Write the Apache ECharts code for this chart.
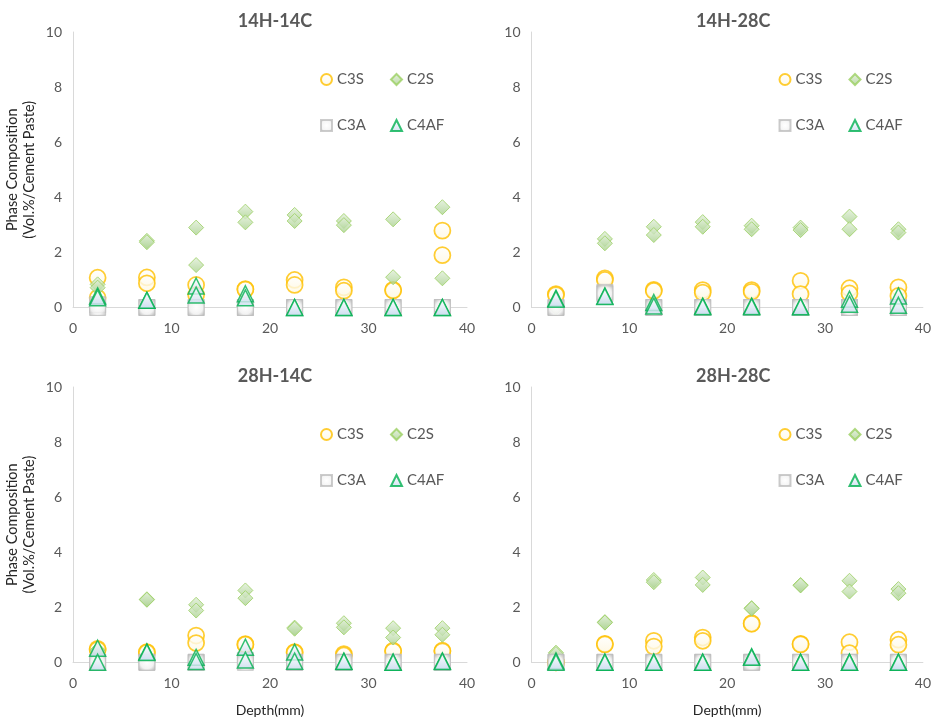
<!DOCTYPE html>
<html>
<head>
<meta charset="utf-8">
<script src="https://cdn.jsdelivr.net/npm/echarts@6/dist/echarts.min.js"></script>
<style>
  html, body { margin: 0; padding: 0; background: #ffffff; }
  #chart { width: 934px; height: 721px; }
</style>
</head>
<body>
<div id="chart"></div>
<script>
// Sampling depths (mm)
const depths = [2.5, 7.5, 12.5, 17.5, 22.5, 27.5, 32.5, 37.5];
const panelTitles = ['14H-14C', '14H-28C', '28H-14C', '28H-28C'];
const phaseNames = ['C3S', 'C2S', 'C3A', 'C4AF'];
const xTicks = [0, 10, 20, 30, 40];
const yTicks = [0, 2, 4, 6, 8, 10];

// Two replicate readings per depth, Vol.% of cement paste
const c3s_14H14C = [[1.08, 0.35], [1.09, 0.88], [0.82, 0.45], [0.67, 0.65], [1.0, 0.82], [0.73, 0.61], [0.64, 0.62], [2.79, 1.9]];
const c2s_14H14C = [[0.84, 0.72], [2.42, 2.37], [2.9, 1.54], [3.48, 3.09], [3.36, 3.14], [3.14, 2.99], [3.2, 1.1], [3.64, 1.06]];
const c3a_14H14C = [[0.1, 0], [0, 0], [0, 0], [0, 0], [0, 0], [0, 0], [0, 0], [0, 0]];
const c4af_14H14C = [[0.42, 0.35], [0.26, 0.26], [0.78, 0.45], [0.5, 0.35], [0, 0], [0, 0], [0, 0], [0, 0]];

const c3s_14H28C = [[0.49, 0.45], [1.06, 1.0], [0.64, 0.6], [0.63, 0.54], [0.63, 0.57], [0.97, 0.49], [0.7, 0.51], [0.73, 0.42]];
const c2s_14H28C = [[0, 0], [2.49, 2.33], [2.93, 2.63], [3.1, 2.93], [2.97, 2.84], [2.9, 2.81], [3.3, 2.84], [2.84, 2.72]];
const c3a_14H28C = [[0, 0], [0.55, 0.5], [0, 0], [0, 0], [0, 0], [0, 0], [0, 0], [0, 0]];
const c4af_14H28C = [[0.34, 0.3], [0.42, 0.4], [0.18, 0.05], [0.05, 0.03], [0.05, 0.03], [0.04, 0.03], [0.3, 0.12], [0.42, 0.08]];

const c3s_28H14C = [[0.49, 0.45], [0.37, 0.35], [0.97, 0.7], [0.66, 0.64], [0.37, 0.35], [0.3, 0.25], [0.42, 0.4], [0.42, 0.4]];
const c2s_28H14C = [[0.45, 0.4], [2.29, 2.27], [2.09, 1.88], [2.61, 2.33], [1.26, 1.22], [1.42, 1.27], [1.24, 0.9], [1.24, 1.0]];
const c3a_28H14C = [[0, 0], [0, 0], [0, 0], [0.07, 0], [0, 0], [0, 0], [0, 0], [0, 0]];
const c4af_28H14C = [[0.51, 0], [0.38, 0.36], [0.18, 0.03], [0.55, 0.08], [0.37, 0.04], [0.04, 0.03], [0, 0], [0.05, 0.03]];

const c3s_28H28C = [[0, 0], [0.67, 0.65], [0.78, 0.57], [0.9, 0.78], [1.42, 1.4], [0.67, 0.65], [0.73, 0.33], [0.82, 0.64]];
const c2s_28H28C = [[0.35, 0.3], [1.46, 1.44], [2.99, 2.91], [3.08, 2.81], [1.97, 1.95], [2.81, 2.79], [2.96, 2.57], [2.66, 2.51]];
const c3a_28H28C = [[0, 0], [0, 0], [0, 0], [0, 0], [0, 0], [0, 0], [0, 0], [0, 0]];
const c4af_28H28C = [[0.05, 0], [0, 0], [0, 0], [0, 0], [0.2, 0.18], [0, 0], [0, 0], [0, 0]];

const panelData = [
  [c3s_14H14C, c2s_14H14C, c3a_14H14C, c4af_14H14C],
  [c3s_14H28C, c2s_14H28C, c3a_14H28C, c4af_14H28C],
  [c3s_28H14C, c2s_28H14C, c3a_28H14C, c4af_28H14C],
  [c3s_28H28C, c2s_28H28C, c3a_28H28C, c4af_28H28C]
];

const FONT = 'Lato, "Open Sans", sans-serif';
const TXT = '#595959';
const AXIS = '#d9d9d9';

// Marker appearance for each phase
const markerStyles = [
  { symbol: 'circle', size: 16, itemStyle: {
      color: { type: 'linear', x: 0, y: 0, x2: 0, y2: 1, colorStops: [{ offset: 0, color: '#ffffff' }, { offset: 1, color: '#fff8e1' }] },
      borderColor: '#ffc000', borderWidth: 1.75 } },
  { symbol: 'diamond', size: 15, itemStyle: {
      color: { type: 'linear', x: 0, y: 0, x2: 0, y2: 1, colorStops: [{ offset: 0, color: '#e2efda' }, { offset: 1, color: '#a9d18e' }] },
      borderColor: '#9bd062', borderWidth: 1 } },
  { symbol: 'rect', size: 16, itemStyle: {
      color: { type: 'radial', x: 0.5, y: 0.5, r: 0.7, colorStops: [{ offset: 0, color: '#ffffff' }, { offset: 0.55, color: '#f2f2f2' }, { offset: 1, color: '#a6a6a6' }] },
      borderColor: '#bfbfbf', borderWidth: 1 } },
  { symbol: 'triangle', size: 16, itemStyle: {
      color: { type: 'linear', x: 0, y: 0, x2: 0, y2: 1, colorStops: [{ offset: 0, color: '#ffffff' }, { offset: 1, color: '#c9dcef' }] },
      borderColor: '#00b050', borderWidth: 1.5 } }
];

// Plot areas: [left, top, width, height]
const grids = [
  [73, 32, 394, 275.5],
  [531.5, 32, 393.5, 275.5],
  [73, 387, 394, 275.3],
  [531.5, 387, 393.5, 275.3]
];

const option = {
  backgroundColor: '#ffffff',
  animation: false,
  title: [],
  grid: [],
  xAxis: [],
  yAxis: [],
  legend: [],
  series: []
};

grids.forEach((g, i) => {
  const [left, top, width, height] = g;
  option.grid.push({ left, top, width, height, containLabel: false });

  option.title.push({
    text: panelTitles[i],
    left: left + width / 2,
    top: top - 25,
    textAlign: 'center',
    textStyle: { fontFamily: FONT, fontWeight: 'bold', fontSize: 18, color: TXT }
  });

  const isBottom = i >= 2;
  const isLeft = i % 2 === 0;

  option.xAxis.push({
    gridIndex: i,
    type: 'value',
    min: xTicks[0],
    max: xTicks[xTicks.length - 1],
    interval: xTicks[1] - xTicks[0],
    name: isBottom ? 'Depth(mm)' : '',
    nameLocation: 'middle',
    nameGap: 41,
    nameTextStyle: { fontFamily: FONT, fontSize: 14, color: '#262626' },
    axisLine: { show: true, onZero: false, lineStyle: { color: AXIS, width: 1 } },
    axisTick: { show: false },
    splitLine: { show: false },
    axisLabel: { fontFamily: FONT, fontSize: 14, color: TXT, margin: 14 }
  });

  option.yAxis.push({
    gridIndex: i,
    type: 'value',
    min: yTicks[0],
    max: yTicks[yTicks.length - 1],
    interval: yTicks[1] - yTicks[0],
    name: isLeft ? 'Phase Composition\n(Vol.%/Cement Paste)' : '',
    nameLocation: 'middle',
    nameRotate: 90,
    nameGap: 35,
    nameTextStyle: { fontFamily: FONT, fontSize: 14.5, color: '#262626', lineHeight: 17, align: 'center' },
    axisLine: { show: true, lineStyle: { color: AXIS, width: 1 } },
    axisTick: { show: false },
    splitLine: { show: false },
    axisLabel: { fontFamily: FONT, fontSize: 14, color: TXT, margin: 11 }
  });

  // Legend laid out as a 2 x 2 block in the upper right of each plot area
  const legendPos = [
    [left + 247, top + 40],
    [left + 317, top + 40],
    [left + 247, top + 86],
    [left + 317, top + 86]
  ];
  phaseNames.forEach((name, k) => {
    option.legend.push({
      data: [name],
      left: legendPos[k][0],
      top: legendPos[k][1],
      padding: 0,
      itemWidth: 11,
      itemHeight: 11,
      selectedMode: false,
      textStyle: { fontFamily: FONT, fontSize: 15, color: TXT }
    });
  });

  panelData[i].forEach((rows, k) => {
    const pts = [];
    rows.forEach((pair, d) => {
      pair.forEach(v => pts.push([depths[d], v]));
    });
    const st = markerStyles[k];
    option.series.push({
      type: 'scatter',
      name: phaseNames[k],
      xAxisIndex: i,
      yAxisIndex: i,
      symbol: st.symbol,
      symbolSize: st.size,
      itemStyle: st.itemStyle,
      clip: false,
      z: 2 + k,
      data: pts
    });
  });
});

const chart = echarts.init(document.getElementById('chart'), null, { renderer: 'canvas' });
chart.setOption(option);
</script>
</body>
</html>
